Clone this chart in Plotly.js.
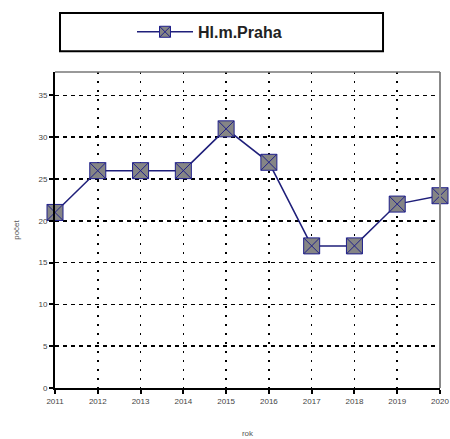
<!DOCTYPE html>
<html><head><meta charset="utf-8">
<script src="https://cdn.plot.ly/plotly-3.0.1.min.js"></script>
<style>body{margin:0;background:#fff}#c{width:450px;height:439px}</style>
</head><body><div id="c"></div>
<script>
const years = [2011, 2012, 2013, 2014, 2015, 2016, 2017, 2018, 2019, 2020];
const counts = [21, 26, 26, 26, 31, 27, 17, 17, 22, 23];
const seriesName = "Hl.m.Praha";
const xTitle = "rok";
const yTitle = "počet";
const yTicks = [0, 5, 10, 15, 20, 25, 30, 35];

const lineStyle = {color: "#1f1f7a", width: 1.5};
const trace = {
  x: years, y: counts, name: seriesName, type: "scatter", mode: "lines+markers",
  line: lineStyle, showlegend: false,
  marker: {symbol: "square-x", size: 16, color: "#858585", line: {color: "#1f1f8a", width: 1}},
  cliponaxis: false
};
// legend entry only (no data points), smaller symbol like the original legend key
const legendKey = {
  x: [null], y: [null], name: seriesName, type: "scatter", mode: "lines+markers",
  line: lineStyle, showlegend: true,
  marker: {symbol: "square-x", size: 11, color: "#858585", line: {color: "#1f1f8a", width: 1}}
};

const tickFont = {family: "Liberation Sans, Arial, sans-serif", size: 8, color: "#444"};
const layout = {
  width: 450, height: 439,
  margin: {l: 55, r: 10, t: 72, b: 51},
  paper_bgcolor: "#fff", plot_bgcolor: "#fff",
  showlegend: true,
  legend: {x: 0.2, xanchor: "left", y: 1.127, yanchor: "middle", orientation: "h",
    itemsizing: "trace", itemwidth: 56,
    bgcolor: "rgba(0,0,0,0)", borderwidth: 0,
    font: {family: "Liberation Sans, Arial, sans-serif", size: 16, color: "#222", weight: "bold"}},
  xaxis: {
    range: [2011, 2020], tickmode: "array", tickvals: years, ticktext: years.map(String),
    showgrid: true, gridcolor: "#000", gridwidth: 1.5, griddash: "2px,7px",
    showline: true, linecolor: "#000", linewidth: 2,
    ticks: "outside", ticklen: 4, tickwidth: 2, tickcolor: "#000",
    tickfont: tickFont, zeroline: false,
    title: {text: xTitle, font: {family: "Liberation Sans, Arial, sans-serif", size: 8, color: "#555"}, standoff: 26}
  },
  yaxis: {
    range: [0, 37.8], tickmode: "array", tickvals: yTicks,
    showgrid: true, gridcolor: "#000", gridwidth: 1.5, griddash: "4px,4px",
    showline: true, linecolor: "#000", linewidth: 2,
    ticks: "outside", ticklen: 4, tickwidth: 2, tickcolor: "#000",
    tickfont: tickFont, zeroline: false,
    title: {text: yTitle, font: {family: "Liberation Sans, Arial, sans-serif", size: 8, color: "#555"}, standoff: 18}
  },
  shapes: [
    {type: "line", xref: "paper", yref: "paper", x0: 1, x1: 1, y0: 0, y1: 1, line: {color: "#888", width: 2}},
    {type: "line", xref: "paper", yref: "paper", x0: 0, x1: 1, y0: 1, y1: 1, line: {color: "#777", width: 1.5}},
    {type: "rect", xref: "paper", yref: "paper", x0: 0.013, x1: 0.852, y0: 1.066, y1: 1.187, line: {color: "#000", width: 2}, fillcolor: "rgba(0,0,0,0)"}
  ]
};
Plotly.newPlot("c", [trace, legendKey], layout, {displayModeBar: false, staticPlot: true});
</script></body></html>
